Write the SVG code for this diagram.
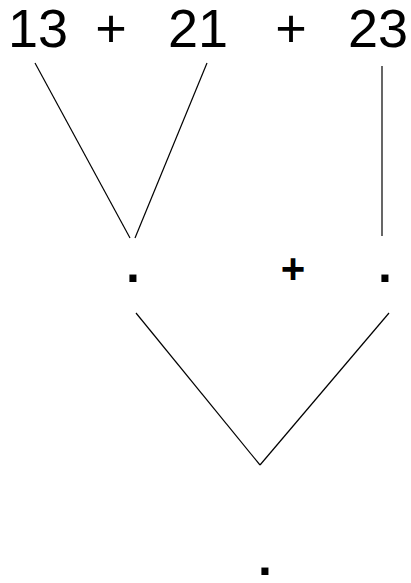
<svg xmlns="http://www.w3.org/2000/svg" width="411" height="583" viewBox="0 0 411 583">
<style>
.t{font-family:"Liberation Sans",Arial,sans-serif;font-size:54px;fill:#000;text-anchor:middle}
.b{font-family:"Liberation Sans",Arial,sans-serif;font-size:42px;font-weight:bold;fill:#000;text-anchor:middle}
.d{font-family:"Liberation Sans",Arial,sans-serif;font-size:50px;font-weight:bold;fill:#000;text-anchor:middle}
.e line{stroke:#000;stroke-width:1.2}
</style>
<rect width="411" height="583" fill="#fff"/>
<g id="top">
<text class="t" x="38" y="47">13</text>
<text class="t" x="111" y="47">+</text>
<text class="t" x="198" y="47">21</text>
<text class="t" x="291" y="47">+</text>
<text class="t" x="378" y="47">23</text>
</g>
<g id="n1"><text class="d" x="133" y="282">.</text></g>
<g id="op"><text class="b" x="293" y="283">+</text></g>
<g id="n2"><text class="d" x="385" y="282">.</text></g>
<g id="n3"><text class="d" x="265" y="575">.</text></g>
<g class="e" id="edges">
<line x1="35" y1="63" x2="130" y2="238"/>
<line x1="207" y1="63" x2="135" y2="238"/>
<line x1="382" y1="66" x2="382" y2="236"/>
<line x1="136" y1="313" x2="260" y2="465"/>
<line x1="389" y1="313" x2="260" y2="465"/>
</g>
</svg>
